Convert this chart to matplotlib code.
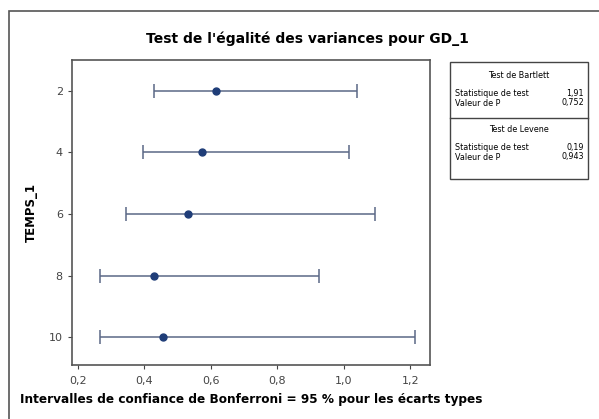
import matplotlib.pyplot as plt
from matplotlib.patches import Rectangle
from matplotlib.ticker import FuncFormatter

# Data
temps = ["2", "4", "6", "8", "10"]
ecart_type = [0.616, 0.575, 0.532, 0.429, 0.457]
ic_bas = [0.430, 0.395, 0.344, 0.268, 0.266]
ic_haut = [1.040, 1.017, 1.095, 0.926, 1.215]

bartlett = ["1,91", "0,752"]
levene = ["0,19", "0,943"]

fig = plt.figure(figsize=(5.99, 4.19), dpi=100)
ax = fig.add_axes([0.120, 0.129, 0.598, 0.728])

pos = list(range(1, len(temps) + 1))
xerr = [[e - b for e, b in zip(ecart_type, ic_bas)],
        [h - e for e, h in zip(ecart_type, ic_haut)]]
ax.errorbar(ecart_type, pos, xerr=xerr, fmt='o', color='#5b6886', ecolor='#5b6886',
            elinewidth=1.1, capsize=5, capthick=1.1, markersize=5,
            markerfacecolor='#1f3d78', markeredgecolor='#1f3d78')

ax.set_yticks(pos)
ax.set_yticklabels(temps)
ax.set_ylim(5.45, 0.5)
ax.set_xlim(0.182, 1.26)
ax.set_xticks([0.2, 0.4, 0.6, 0.8, 1.0, 1.2])
ax.xaxis.set_major_formatter(FuncFormatter(lambda v, p: f"{v:.1f}".replace('.', ',')))
ax.tick_params(labelsize=8, colors='#444444', length=3)
ax.tick_params(axis='x', pad=5)
for s in ax.spines.values():
    s.set_color('#555555')
    s.set_linewidth(1.2)

ax.set_ylabel("TEMPS_1", fontsize=8.5, fontweight='bold', labelpad=8)
fig.text(0.514, 0.907, "Test de l'égalité des variances pour GD_1",
         ha='center', va='center', fontsize=10, fontweight='bold')
fig.text(0.034, 0.046, "Intervalles de confiance de Bonferroni = 95 % pour les écarts types",
         ha='left', va='center', fontsize=8.7, fontweight='bold')

# Outer frame
fig.add_artist(Rectangle((9 / 599, -0.01), 1.0, 1 - 11 / 419 + 0.01, transform=fig.transFigure,
                         fill=False, edgecolor='#555555', linewidth=1.2))

# Test table
x0, x1 = 450 / 599, 588 / 599
ytop, ybot, ymid = 1 - 62 / 419, 1 - 179 / 419, 1 - 118 / 419
fig.add_artist(Rectangle((x0, ybot), x1 - x0, ytop - ybot, transform=fig.transFigure,
                         fill=False, edgecolor='#444444', linewidth=1.0))
fig.add_artist(plt.Line2D([x0, x1], [ymid, ymid], transform=fig.transFigure,
                          color='#444444', linewidth=1.0))
xl, xr, xc = 455 / 599, 584 / 599, (x0 + x1) / 2
fs = 5.8
rows = [(75, "Test de Bartlett", None),
        (93, "Statistique de test", bartlett[0]),
        (103, "Valeur de P", bartlett[1]),
        (129, "Test de Levene", None),
        (147, "Statistique de test", levene[0]),
        (157, "Valeur de P", levene[1])]
for ypix, lab, val in rows:
    y = 1 - ypix / 419
    if val is None:
        fig.text(xc, y, lab, ha='center', va='center', fontsize=fs)
    else:
        fig.text(xl, y, lab, ha='left', va='center', fontsize=fs)
        fig.text(xr, y, val, ha='right', va='center', fontsize=fs)

plt.savefig("out.png", dpi=100)
